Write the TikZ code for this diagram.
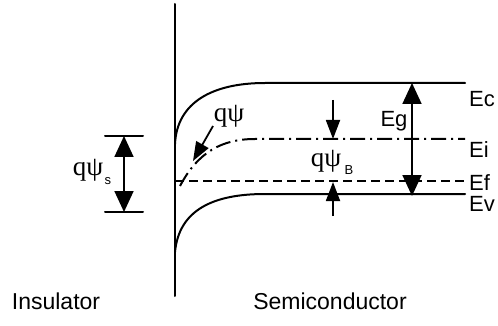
\documentclass[tikz,border=0pt]{standalone}
\usepackage{fontspec}
\setmainfont{Liberation Sans}
\newfontfamily\psifont{Liberation Serif}
\usepackage{tikz}
\usetikzlibrary{
  arrows.meta,
  positioning,
  calc
}
\tikzset{
  band/.style={line width=2pt, line cap=round},
  midgap/.style={line width=2pt, dash pattern=on 15pt off 5pt on 2pt off 5pt},
  fermi/.style={line width=2pt, dash pattern=on 9pt off 5pt},
  bothtip/.style={{Triangle[length=21pt,width=19pt]}-{Triangle[length=21pt,width=19pt]}, line width=1.8pt},
  onetip/.style={-{Triangle[length=19pt,width=14pt]}, line width=1.8pt},
  lvl/.style={font=\fontsize{22}{24}\selectfont, anchor=west, inner sep=0pt},
  psilbl/.style={font=\psifont\fontsize{27}{28}\selectfont, inner sep=0pt},
  sub/.style={font=\fontsize{13}{14}\selectfont, inner sep=0pt},
  side/.style={font=\fontsize{23}{26}\selectfont, inner sep=0pt}
}

\begin{document}
\begin{tikzpicture}[x=1pt, y=-1pt]
  \useasboundingbox (0,0) rectangle (498,326);
  % interface
  \coordinate (ifTop) at (175,4);
  \coordinate (ifBot) at (175,296);
  \draw[band] (ifTop) -- (ifBot);
  % bands
  \coordinate (ecL) at (175,144);
  \coordinate (ecK) at (265,83);
  \coordinate (ecR) at (465,83);
  \coordinate (eiL) at (180,186);
  \coordinate (eiK) at (255,139);
  \coordinate (eiR) at (465,139);
  \coordinate (efL) at (175,181);
  \coordinate (efR) at (465,181);
  \coordinate (evL) at (175,252);
  \coordinate (evK) at (265,194);
  \coordinate (evR) at (465,194);
  \draw[band] (ecL) .. controls (177,102) and (213,83) .. (ecK) -- (ecR);
  \draw[midgap] (eiL) .. controls (198,152) and (222,139) .. (eiK) -- (eiR);
  \draw[fermi] (efL) -- (efR);
  \draw[band] (evL) .. controls (179,210) and (213,194) .. (evK) -- (evR);
  \node[lvl] (ec) at (469,99) {Ec};
  \node[lvl] (ei) at (469,150) {Ei};
  \node[lvl] (ef) at (469,183) {Ef};
  \node[lvl] (ev) at (469,204) {Ev};
  % band gap
  \coordinate (egTop) at (412,83);
  \coordinate (egBot) at (412,196);
  \draw[bothtip] (egBot) -- (egTop);
  \node[lvl, anchor=center] (eg) at (394,121) {Eg};
  % bulk potential
  \coordinate (bTop) at (333,100);
  \coordinate (bEi) at (333,139);
  \coordinate (bBot) at (333,216);
  \coordinate (bEf) at (333,182);
  \draw[onetip] (bTop) -- (bEi);
  \draw[onetip] (bBot) -- (bEf);
  \node[psilbl] (psib) at (326,161) {qψ};
  \node[sub, anchor=south west] (psibsub) at ([xshift=3pt,yshift=-3pt]psib.south east) {B};
  % band bending
  \node[psilbl] (psi) at (229,116) {qψ};
  \coordinate (psiTip) at (193,161);
  \draw[onetip] (213,126) -- (psiTip);
  % surface potential
  \coordinate (sTopL) at (105,136);
  \coordinate (sTopR) at (143,136);
  \coordinate (sBotL) at (105,212);
  \coordinate (sBotR) at (143,212);
  \coordinate (sTop) at (124,136);
  \coordinate (sBot) at (124,212);
  \draw[band] (sTopL) -- (sTopR);
  \draw[band] (sBotL) -- (sBotR);
  \draw[bothtip] (sBot) -- (sTop);
  \node[psilbl] (psis) at (88,170) {qψ};
  \node[sub, anchor=south west] (psissub) at ([xshift=1pt,yshift=-4pt]psis.south east) {s};
  % regions
  \node[side] (ins) at (56,301) {Insulator};
  \node[side] (semi) at (330,301) {Semiconductor};
\end{tikzpicture}
\end{document}
